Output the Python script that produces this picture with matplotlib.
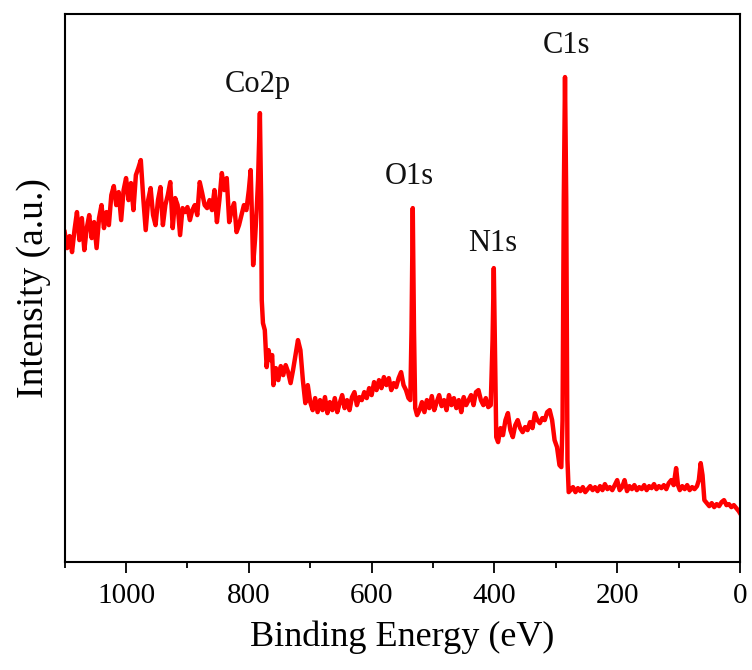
import matplotlib
matplotlib.use("Agg")
import matplotlib.pyplot as plt
from matplotlib.ticker import MultipleLocator

plt.rcParams['font.family'] = ['Liberation Serif', 'DejaVu Serif']

# Binding energy (eV)
energy = [
    1100, 1096, 1092, 1088, 1084, 1080, 1076, 1072, 1068, 1064, 1060, 1056, 1052, 1048, 1044,
    1040, 1036, 1032, 1028, 1024, 1020, 1016, 1012, 1008, 1004, 1000, 996, 992, 988, 984,
    980, 976, 972, 968, 964, 960, 956, 952, 948, 944, 940, 936, 932, 928, 924,
    920, 916, 912, 908, 904, 900, 896, 892, 888, 884, 880, 876, 872, 868, 864,
    860, 856, 852, 848, 844, 840, 836, 832, 828, 824, 820, 816, 812, 808, 804,
    800, 797, 795, 793, 790, 787, 785, 782, 780, 779, 777, 774, 771, 768, 765,
    762, 760, 756, 752, 748, 744, 740, 736, 732, 728, 724, 720, 716, 712, 708,
    704, 700, 696, 692, 688, 684, 680, 676, 672, 668, 664, 660, 656, 652, 648,
    644, 640, 636, 632, 628, 624, 620, 616, 612, 608, 604, 600, 596, 592, 588,
    584, 580, 576, 572, 568, 564, 560, 556, 552, 548, 544, 540, 537, 535, 533,
    531, 529, 526, 522, 518, 514, 510, 506, 502, 498, 494, 490, 486, 482, 478,
    474, 470, 466, 462, 458, 454, 450, 446, 442, 438, 434, 430, 426, 422, 418,
    414, 410, 406, 403, 401, 399, 397, 394, 390, 386, 382, 378, 374, 370, 366,
    362, 358, 354, 350, 346, 342, 338, 334, 330, 326, 322, 318, 314, 310, 306,
    302, 298, 294, 291, 289, 287, 285, 283, 281, 279, 276, 272, 268, 264, 260,
    256, 252, 248, 244, 240, 236, 232, 228, 224, 220, 216, 212, 208, 204, 200,
    196, 192, 188, 184, 180, 176, 172, 168, 164, 160, 156, 152, 148, 144, 140,
    136, 132, 128, 124, 120, 116, 112, 108, 104, 101, 98, 94, 90, 86, 82,
    78, 74, 70, 67, 64, 61, 58, 54, 50, 46, 42, 38, 34, 30, 26,
    22, 18, 14, 10, 6, 2, 0,
]

# Intensity (a.u.)
intensity = [
    330, 314, 326, 310, 332, 350, 322, 344, 312, 334, 347, 324, 340, 314, 344,
    357, 334, 350, 337, 367, 376, 357, 370, 342, 372, 384, 362, 379, 352, 387,
    394, 402, 364, 332, 362, 374, 347, 337, 362, 375, 337, 357, 367, 380, 334,
    364, 357, 327, 354, 350, 355, 342, 352, 357, 347, 380, 369, 357, 354, 362,
    352, 372, 340, 362, 389, 372, 384, 340, 352, 359, 330, 337, 347, 357, 352,
    372, 392, 347, 297, 322, 355, 382, 449, 362, 262, 239, 232, 195, 212, 202,
    207, 177, 194, 182, 196, 187, 197, 190, 179, 192, 207, 222, 212, 182, 159,
    177, 160, 152, 164, 150, 162, 152, 165, 149, 160, 152, 164, 150, 159, 167,
    154, 162, 152, 165, 170, 157, 165, 162, 170, 164, 174, 167, 180, 172, 182,
    174, 185, 177, 184, 172, 179, 175, 184, 190, 177, 172, 164, 162, 232, 354,
    232, 154, 147, 152, 160, 150, 162, 154, 166, 152, 160, 167, 156, 162, 152,
    167, 157, 164, 154, 162, 150, 165, 157, 162, 167, 157, 170, 172, 162, 157,
    164, 155, 157, 222, 294, 212, 125, 120, 134, 127, 142, 149, 132, 125, 137,
    142, 134, 130, 135, 132, 140, 134, 149, 142, 139, 144, 142, 150, 152, 142,
    122, 115, 97, 95, 142, 362, 485, 362, 102, 70, 72, 75, 70, 74, 71,
    75, 70, 73, 76, 72, 75, 71, 76, 72, 78, 73, 75, 72, 77, 82,
    72, 75, 82, 71, 76, 73, 77, 72, 75, 73, 77, 72, 76, 74, 78,
    73, 76, 74, 77, 73, 79, 82, 77, 94, 77, 72, 76, 73, 77, 72,
    75, 73, 76, 82, 99, 87, 62, 59, 56, 59, 55, 58, 56, 60, 62,
    57, 58, 55, 57, 54, 51, 49,
]

# Peak labels
peak_names = ["Co2p", "O1s", "N1s", "C1s"]
peak_label_x = [785, 538, 402, 283]
peak_label_y = [478, 386, 319, 517]

xticks = [1000, 800, 600, 400, 200, 0]

fig = plt.figure(figsize=(7.52, 6.70), dpi=100)
ax = fig.add_axes([0.086, 0.161, 0.898, 0.818])

ax.plot(energy, intensity, color='#ff0000', lw=3.2, solid_joinstyle='round')

for name, px, py in zip(peak_names, peak_label_x, peak_label_y):
    ax.text(px, py, name, ha='center', va='center', fontsize=22, color='#111111')

ax.set_xlim(1100, 0)
ax.set_ylim(0, 548)
ax.set_xticks(xticks)
ax.xaxis.set_minor_locator(MultipleLocator(100))
ax.set_yticks([])

ax.tick_params(axis='x', which='major', direction='out', length=8, width=1.3,
               labelsize=21, pad=7)
ax.tick_params(axis='x', which='minor', direction='out', length=4, width=1.3)
for s in ax.spines.values():
    s.set_linewidth(1.5)

ax.set_xlabel("Binding Energy (eV)", fontsize=26, labelpad=8)
ax.set_ylabel("Intensity (a.u.)", fontsize=27, labelpad=10)

fig.savefig("out.png", dpi=100)
